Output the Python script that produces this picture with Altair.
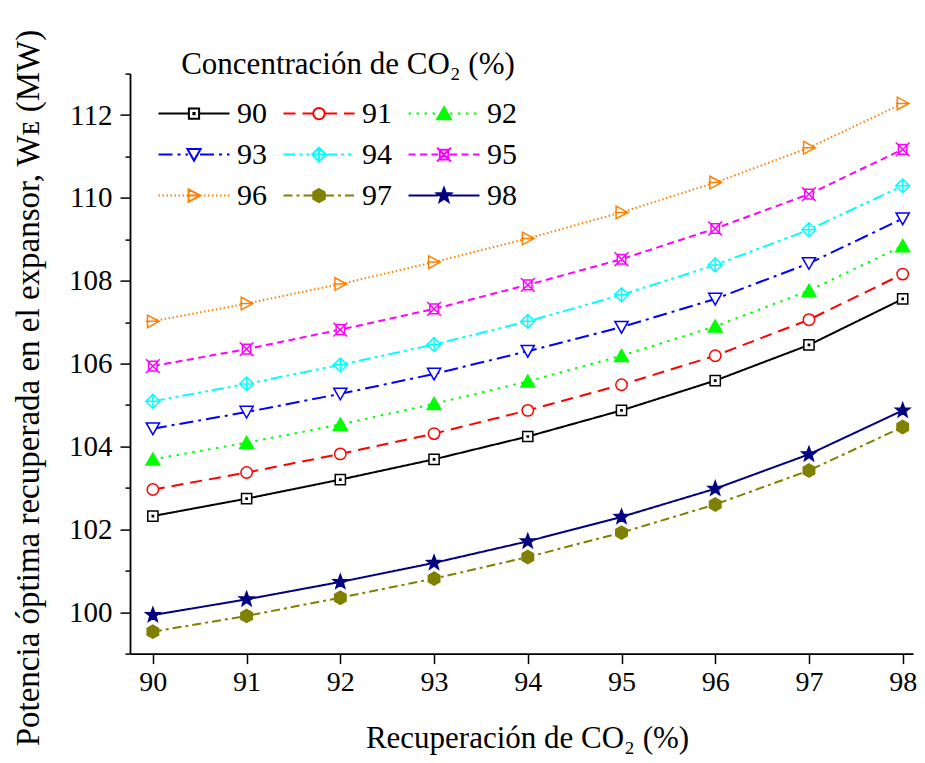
import math
import altair as alt
import pandas as pd

# ---------------- data ----------------
recuperacion = [90, 91, 92, 93, 94, 95, 96, 97, 98]
concentraciones = ["90", "91", "92", "93", "94", "95", "96", "97", "98"]

w_c90 = [102.32, 102.74, 103.20, 103.69, 104.24, 104.87, 105.59, 106.45, 107.56]
w_c91 = [102.96, 103.37, 103.82, 104.31, 104.87, 105.49, 106.19, 107.06, 108.16]
w_c92 = [103.69, 104.09, 104.53, 105.03, 105.57, 106.19, 106.90, 107.76, 108.84]
w_c93 = [104.43, 104.83, 105.27, 105.75, 106.30, 106.88, 107.56, 108.42, 109.50]
w_c94 = [105.09, 105.51, 105.97, 106.46, 107.02, 107.66, 108.38, 109.23, 110.29]
w_c95 = [105.94, 106.35, 106.82, 107.32, 107.90, 108.52, 109.26, 110.09, 111.17]
w_c96 = [107.02, 107.45, 107.92, 108.45, 109.02, 109.65, 110.37, 111.21, 112.28]
w_c97 = [99.53, 99.91, 100.35, 100.81, 101.33, 101.92, 102.60, 103.42, 104.47]
w_c98 = [99.93, 100.31, 100.73, 101.19, 101.71, 102.30, 102.98, 103.81, 104.87]

series_values = [w_c90, w_c91, w_c92, w_c93, w_c94, w_c95, w_c96, w_c97, w_c98]

x_ticks = [90, 91, 92, 93, 94, 95, 96, 97, 98]
y_ticks = [99, 100, 101, 102, 103, 104, 105, 106, 107, 108, 109, 110, 111, 112, 113]

# ---------------- styles ----------------
FONT = "Liberation Serif"
colores = ["#000000", "#FF0000", "#00FF00", "#0000FF", "#00FFFF",
           "#FF00FF", "#FF8000", "#808000", "#000080"]
rellenos = ["white", "white", "#00FF00", "white", "white",
            "white", "white", "#808000", "#000080"]
trazos = [[1, 0], [12, 7], [2.5, 5.5], [14, 5, 3, 5], [12, 4, 3, 4, 3, 4],
          [7, 4.5], [1.5, 2.5], [9, 4, 3, 4], [1, 0]]


def _star(ro, ri):
    pts = []
    for i in range(10):
        r = ro if i % 2 == 0 else ri
        a = -math.pi / 2 + i * math.pi / 5
        pts.append((r * math.cos(a), r * math.sin(a)))
    return pts


def _hexagon(r):
    return [(r * math.cos(-math.pi / 2 + i * math.pi / 3),
             r * math.sin(-math.pi / 2 + i * math.pi / 3)) for i in range(6)]


marcadores = [
    [("poly", [(-0.85, -0.85), (0.85, -0.85), (0.85, 0.85), (-0.85, 0.85)], True),
     ("poly", [(-0.1, -0.1), (0.1, -0.1), (0.1, 0.1), (-0.1, 0.1)], True)],
    [("circle", 0.95)],
    [("poly", [(0, -1.05), (1.15, 0.95), (-1.15, 0.95)], True)],
    [("poly", [(-1.1, -0.95), (1.1, -0.95), (0, 1.0)], True)],
    [("poly", [(0, -1.15), (1.15, 0), (0, 1.15), (-1.15, 0)], True),
     ("poly", [(0, -1.15), (0, 1.15)], False),
     ("poly", [(-1.15, 0), (1.15, 0)], False)],
    [("poly", [(-0.7, -0.8), (0.7, -0.8), (0.7, 0.8), (-0.7, 0.8)], True),
     ("poly", [(-1.15, -1.15), (1.15, 1.15)], False),
     ("poly", [(1.15, -1.15), (-1.15, 1.15)], False)],
    [("poly", [(-0.9, -1.05), (1.05, 0), (-0.9, 1.05)], True),
     ("poly", [(-1.15, 0), (1.05, 0)], False)],
    [("poly", _hexagon(1.1), True)],
    [("poly", _star(1.25, 0.52), True)],
]


def _f(v):
    return f"{v:.4f}"


def path_of(elems, k=1.0):
    parts = []
    for e in elems:
        if e[0] == "circle":
            r = e[1] * k
            parts.append(f"M{_f(r)},0A{_f(r)},{_f(r)} 0 1,1 {_f(-r)},0"
                         f"A{_f(r)},{_f(r)} 0 1,1 {_f(r)},0Z")
        else:
            pts, closed = e[1], e[2]
            s = "M" + "L".join(f"{_f(x * k)},{_f(y * k)}" for x, y in pts)
            if closed:
                s += "Z"
            parts.append(s)
    return "".join(parts)


MARK_SIZE = 144            # 1 path unit = 6 px on the chart
LEG_SIZE = 900             # 1 path unit = 15 px in the legend
LEG_HALF_PX = 35.5         # half length of the legend sample line
leg_unit = math.sqrt(LEG_SIZE) / 2
k_leg = (math.sqrt(MARK_SIZE) / 2) / leg_unit
half = LEG_HALF_PX / leg_unit


def dash_segments(start, end, pattern):
    if pattern == [1, 0]:
        return [(start, end)]
    segs, x, i = [], start, 0
    pat = [p / leg_unit for p in pattern]
    while x < end:
        length = pat[i % len(pat)]
        if i % 2 == 0:
            segs.append((x, min(end, x + length)))
        x += length
        i += 1
    return segs


def legend_path(elems, pattern):
    g = 1.0 * k_leg
    segs = dash_segments(-half, -g, pattern) + dash_segments(g, half, pattern)
    lines = "".join(f"M{_f(a)},0L{_f(b)},0" for a, b in segs)
    return lines + path_of(elems, k_leg)


formas_grafico = [path_of(m) for m in marcadores]
formas_leyenda = [legend_path(m, t) for m, t in zip(marcadores, trazos)]

rows = []
for c, vals in zip(concentraciones, series_values):
    for xv, yv in zip(recuperacion, vals):
        rows.append({"rec": xv, "w": yv, "conc": c})
df = pd.DataFrame(rows)

# ---------------- encodings ----------------
x_enc = alt.X("rec:Q", scale=alt.Scale(domain=[89.756, 98.11], nice=False, zero=False),
              axis=alt.Axis(values=x_ticks, format="d", title="Recuperación de CO₂ (%)",
                            tickSize=10, labelPadding=5, labelFontSize=28,
                            titleFontSize=31,
                            titleBaseline="alphabetic", titleY=94, titleX=397))
y_enc = alt.Y("w:Q", scale=alt.Scale(domain=[99, 113], nice=False, zero=False),
              axis=alt.Axis(values=y_ticks, format="d",
                            labelExpr="datum.value % 2 === 0 ? datum.label : ''",
                            tickSize={"condition": {"test": "datum.value % 2 === 0", "value": 10},
                                      "value": 5},
                            labelPadding=8,
                            title="Potencia óptima recuperada en el expansor, Wᴇ (MW)",
                            titleFontSize=33, titleX=-85, titleY=314))

lineas = alt.Chart(df).mark_line(strokeWidth=2).encode(
    x=x_enc, y=y_enc,
    stroke=alt.Stroke("conc:N", scale=alt.Scale(domain=concentraciones, range=colores), legend=None),
    strokeDash=alt.StrokeDash("conc:N", scale=alt.Scale(domain=concentraciones, range=trazos), legend=None),
    detail="conc:N",
)

puntos = alt.Chart(df).mark_point(size=MARK_SIZE, strokeWidth=1.5, opacity=1).encode(
    x=x_enc, y=y_enc,
    stroke=alt.Stroke("conc:N", scale=alt.Scale(domain=concentraciones, range=colores), legend=None),
    fill=alt.Fill("conc:N", scale=alt.Scale(domain=concentraciones, range=rellenos), legend=None),
    shape=alt.Shape("conc:N", scale=alt.Scale(domain=concentraciones, range=formas_grafico), legend=None),
)

leyenda = alt.Legend(
    title="Concentración de CO₂ (%)", orient="none", legendX=48, legendY=-24,
    direction="horizontal", columns=3, symbolSize=LEG_SIZE, symbolStrokeWidth=2, symbolOpacity=1,
    labelFont=FONT, labelFontSize=30, labelColor="black", labelOffset=27,
    titleFont=FONT, titleFontSize=31, titleFontWeight="normal", titleColor="black",
    titleAnchor="middle", titlePadding=17, titleLimit=1000, labelLimit=200,
    rowPadding=10, columnPadding=12, padding=0,
)

capa_leyenda = alt.Chart(df).transform_filter("false").mark_point(strokeWidth=2, opacity=1).encode(
    x=x_enc, y=y_enc,
    stroke=alt.Stroke("conc:N", scale=alt.Scale(domain=concentraciones, range=colores), legend=leyenda),
    fill=alt.Fill("conc:N", scale=alt.Scale(domain=concentraciones, range=rellenos), legend=leyenda),
    shape=alt.Shape("conc:N", scale=alt.Scale(domain=concentraciones, range=formas_leyenda), legend=leyenda),
)

chart = alt.layer(lineas, puntos, capa_leyenda).resolve_scale(
    stroke="independent", fill="independent", shape="independent", strokeDash="independent"
).properties(
    width=783, height=580,
    padding={"left": 122, "top": 65.6, "right": 4, "bottom": 101.4},
    autosize=alt.AutoSizeParams(type="none"),
    background="white",
).configure(font=FONT).configure_view(stroke=None).configure_axis(
    grid=False, domainColor="black", domainWidth=1.8, tickColor="black", tickWidth=1.5,
    labelFont=FONT, labelFontSize=29, labelColor="black",
    titleFont=FONT, titleFontSize=30, titleFontWeight="normal", titleColor="black",
).configure_legend(labelFont=FONT, titleFont=FONT)

chart.save("out.html", embed_options={"renderer": "svg", "actions": False})
